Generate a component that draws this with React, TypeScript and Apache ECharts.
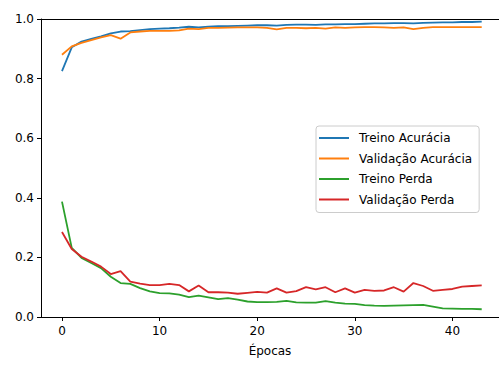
import React, { useEffect, useRef } from "react";
import * as echarts from "echarts";

const epochs: number[] = Array.from({ length: 44 }, (_, i) => i);

const treinoAcuracia: number[] = [
  0.825, 0.905, 0.924, 0.933, 0.942, 0.952, 0.958, 0.959, 0.963, 0.966,
  0.968, 0.969, 0.971, 0.974, 0.972, 0.974, 0.976, 0.976, 0.977, 0.978,
  0.979, 0.979, 0.978, 0.980, 0.981, 0.981, 0.980, 0.982, 0.982, 0.983,
  0.983, 0.984, 0.985, 0.985, 0.986, 0.986, 0.985, 0.987, 0.988, 0.989,
  0.989, 0.990, 0.990, 0.991,
];

const validacaoAcuracia: number[] = [
  0.880, 0.908, 0.920, 0.929, 0.938, 0.946, 0.934, 0.955, 0.958, 0.960,
  0.960, 0.960, 0.962, 0.968, 0.966, 0.970, 0.970, 0.971, 0.972, 0.972,
  0.972, 0.970, 0.965, 0.970, 0.970, 0.969, 0.970, 0.968, 0.972, 0.970,
  0.972, 0.973, 0.973, 0.972, 0.970, 0.972, 0.966, 0.970, 0.973, 0.973,
  0.973, 0.973, 0.973, 0.973,
];

const treinoPerda: number[] = [
  0.387, 0.232, 0.198, 0.181, 0.164, 0.135, 0.114, 0.111, 0.097, 0.086,
  0.080, 0.079, 0.075, 0.067, 0.072, 0.066, 0.060, 0.063, 0.058, 0.052,
  0.050, 0.050, 0.051, 0.054, 0.049, 0.048, 0.048, 0.053, 0.048, 0.045,
  0.044, 0.040, 0.038, 0.037, 0.038, 0.039, 0.040, 0.041, 0.035, 0.029,
  0.028, 0.027, 0.027, 0.026,
];

const validacaoPerda: number[] = [
  0.285, 0.228, 0.202, 0.186, 0.169, 0.144, 0.154, 0.119, 0.112, 0.107,
  0.107, 0.111, 0.107, 0.086, 0.106, 0.083, 0.083, 0.082, 0.078, 0.081,
  0.084, 0.082, 0.096, 0.082, 0.087, 0.100, 0.093, 0.100, 0.083, 0.096,
  0.082, 0.091, 0.088, 0.089, 0.100, 0.085, 0.114, 0.104, 0.088, 0.091,
  0.094, 0.102, 0.104, 0.106,
];

const xTicks: number[] = [0, 10, 20, 30, 40];
const seriesNames: string[] = [
  "Treino Acurácia",
  "Validação Acurácia",
  "Treino Perda",
  "Validação Perda",
];
const colors: string[] = ["#1f77b4", "#ff7f0e", "#2ca02c", "#d62728"];

const FONT = "DejaVu Sans";

export default function App() {
  const ref = useRef<HTMLDivElement>(null);

  useEffect(() => {
    if (!ref.current) return;
    const chart = echarts.init(ref.current, undefined, { renderer: "svg" });
    const allData = [treinoAcuracia, validacaoAcuracia, treinoPerda, validacaoPerda];
    const xMin = -2.15;
    const xMax = 44.77;
    chart.setOption({
      animation: false,
      backgroundColor: "#ffffff",
      color: colors,
      textStyle: { fontFamily: FONT },
      grid: { left: 41, right: 0, top: 19, bottom: 48, containLabel: false },
      legend: {
        orient: "vertical",
        left: 316,
        top: 126,
        padding: [5, 7, 6, 3],
        itemGap: 6.5,
        itemWidth: 30,
        itemHeight: 2,
        icon: "rect",
        borderColor: "#cccccc",
        borderWidth: 1,
        borderRadius: 3,
        backgroundColor: "rgba(255,255,255,0.8)",
        textStyle: {
          fontFamily: FONT,
          fontSize: 12,
          color: "#000000",
          lineHeight: 14,
          padding: [0, 0, 0, 5],
        },
        data: seriesNames,
      },
      xAxis: [
        {
          type: "value",
          min: xMin,
          max: xMax,
          position: "bottom",
          name: "Épocas",
          nameLocation: "middle",
          nameGap: 28,
          nameTextStyle: { fontFamily: FONT, fontSize: 12, color: "#000000" },
          axisLine: { show: true, onZero: false, lineStyle: { color: "#000000", width: 1 } },
          axisTick: {
            show: true,
            length: 4,
            inside: false,
            customValues: xTicks,
            lineStyle: { color: "#000000", width: 1 },
          },
          axisLabel: {
            show: true,
            margin: 8,
            customValues: xTicks,
            fontFamily: FONT,
            fontSize: 12,
            color: "#000000",
          },
          splitLine: { show: false },
        },
        {
          type: "value",
          min: xMin,
          max: xMax,
          position: "top",
          axisLine: { show: true, onZero: false, lineStyle: { color: "#000000", width: 1 } },
          axisTick: { show: false },
          axisLabel: { show: false },
          splitLine: { show: false },
        },
      ],
      yAxis: {
        type: "value",
        min: 0,
        max: 1,
        interval: 0.2,
        axisLine: { show: true, onZero: false, lineStyle: { color: "#000000", width: 1 } },
        axisTick: { show: true, length: 4, lineStyle: { color: "#000000", width: 1 } },
        axisLabel: {
          margin: 7,
          fontFamily: FONT,
          fontSize: 12,
          color: "#000000",
          formatter: (v: number) => v.toFixed(1),
        },
        splitLine: { show: false },
      },
      series: seriesNames.map((name, k) => ({
        name,
        type: "line",
        xAxisIndex: 0,
        data: epochs.map((e, i) => [e, allData[k][i]]),
        showSymbol: false,
        symbol: "none",
        lineStyle: { width: 1.8, color: colors[k] },
        itemStyle: { color: colors[k] },
        emphasis: { disabled: true },
      })),
    });
    return () => chart.dispose();
  }, []);

  return (
    <div
      ref={ref}
      style={{ position: "fixed", left: 0, top: 0, width: 499, height: 365 }}
    />
  );
}
